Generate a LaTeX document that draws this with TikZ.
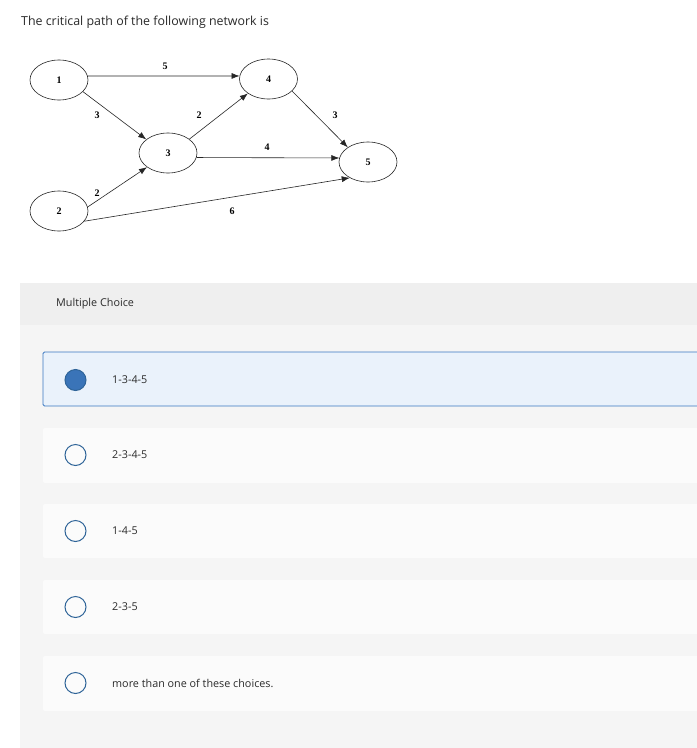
\documentclass[tikz,border=0pt]{standalone}
\usepackage{fontspec}
\usetikzlibrary{arrows.meta,shapes.geometric}
\newfontfamily\uifont{Open Sans}
\newfontfamily\tmsfont{Liberation Serif}
\definecolor{bandgray}{HTML}{EFEFEF}
\definecolor{panelgray}{HTML}{F5F5F5}
\definecolor{boxwhite}{HTML}{FBFBFB}
\definecolor{selfill}{HTML}{EAF2FB}
\definecolor{selborder}{HTML}{3A78C0}
\definecolor{radioblue}{HTML}{2F6498}
\definecolor{radiofill}{HTML}{3A74B8}
\definecolor{txt}{HTML}{2A2A2A}
\tikzset{
  ev/.style={draw=black!85, ellipse, line width=0.6pt, minimum width=58pt, minimum height=40pt, inner sep=0pt, font=\tmsfont\bfseries\fontsize{10}{11}\selectfont},
  arc/.style={draw=black!85, line width=0.6pt, -{Latex[length=8pt,width=6pt]}},
  wt/.style={font=\tmsfont\bfseries\fontsize{10}{11}\selectfont, inner sep=0pt},
  optbox/.style={fill=boxwhite, draw=none, rounded corners=2pt},
  radio/.style={circle, draw=radioblue, line width=1pt, minimum size=21pt, inner sep=0pt},
  opttext/.style={anchor=west, inner sep=0pt, text=txt, font=\uifont\fontsize{10.8}{12}\selectfont},
}
\begin{document}
\begin{tikzpicture}[x=1pt,y=-1pt]
\useasboundingbox (0,0) rectangle (697,748);
\fill[white] (0,0) rectangle (697,748);
% title
\node[anchor=west, inner sep=0pt, text=txt, font=\uifont\fontsize{12.4}{14}\selectfont] (title) at (21,22) {The critical path of the following network is};
% network
\node[ev] (n1) at (59,80) {1};
\node[ev] (n4) at (268.5,79) {4};
\node[ev] (n3) at (168,153) {3};
\node[ev] (n2) at (59,211) {2};
\node[ev] (n5) at (368,162) {5};
\draw[arc] (n1.8) -- (n4.174);
\draw[arc] (n1.-26) -- (n3.148);
\draw[arc] (n3.33) -- (n4.215);
\draw[arc] (n3.-9) -- (n5.172);
\draw[arc] (n4.-27) -- (n5.144);
\draw[arc] (n2.8) -- (n3.214);
\draw[arc] (n2.-22) -- (n5.221);
\node[wt] (w14) at (165,66) {5};
\node[wt] (w13) at (97,115) {3};
\node[wt] (w34) at (199,115) {2};
\node[wt] (w35) at (267,147) {4};
\node[wt] (w45) at (335,115) {3};
\node[wt] (w23) at (97,193) {2};
\node[wt] (w25) at (232,211) {6};
% panel
\fill[panelgray] (20,283) rectangle (697,748);
\fill[bandgray] (20,283) rectangle (697,325);
\node[opttext] (mc) at (56,304) {Multiple Choice};
% options
\filldraw[fill=selfill, draw=selborder, line width=0.8pt, rounded corners=1.5pt] (43,352) rectangle (699,406);
\fill[optbox] (43,428) rectangle (700,483);
\fill[optbox] (43,504) rectangle (700,558);
\fill[optbox] (43,580) rectangle (700,634);
\fill[optbox] (43,656) rectangle (700,711);
\node[radio, fill=radiofill, draw=radioblue] (r1) at (75.5,380) {};
\node[radio] (r2) at (75.5,455) {};
\node[radio] (r3) at (75.5,531) {};
\node[radio] (r4) at (75.5,607) {};
\node[radio] (r5) at (75.5,683) {};
\node[opttext] (t1) at (112,380) {1-3-4-5};
\node[opttext] (t2) at (112,455) {2-3-4-5};
\node[opttext] (t3) at (112,531) {1-4-5};
\node[opttext] (t4) at (112,607) {2-3-5};
\node[opttext] (t5) at (112,683) {more than one of these choices.};
\end{tikzpicture}
\end{document}
